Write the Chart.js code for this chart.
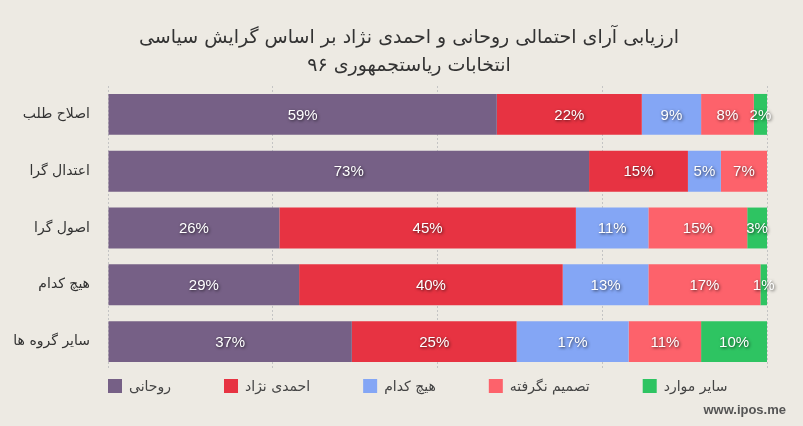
<!DOCTYPE html>
<html>
<head>
<meta charset="utf-8">
<script src="https://cdn.jsdelivr.net/npm/chart.js@4/dist/chart.umd.min.js"></script>
<style>
html,body{margin:0;padding:0;background:#edeae3;}
#wrap{width:803px;height:426px;position:relative;}
</style>
</head>
<body>
<div id="wrap"><canvas id="c" width="803" height="426"></canvas></div>
<script>
const categories = ['اصلاح طلب', 'اعتدال گرا', 'اصول گرا', 'هیچ کدام', 'سایر گروه ها'];
const seriesNames = ['روحانی', 'احمدی نژاد', 'هیچ کدام', 'تصمیم نگرفته', 'سایر موارد'];
const rouhani   = [59, 73, 26, 29, 37];
const ahmadinejad = [22, 15, 45, 40, 25];
const none      = [9, 5, 11, 13, 17];
const undecided = [8, 7, 15, 17, 11];
const others    = [2, 0, 3, 1, 10];
const xTicks = [0, 25, 50, 75, 100];
const titleLines = ['ارزیابی آرای احتمالی روحانی و احمدی نژاد بر اساس گرایش سیاسی', 'انتخابات ریاستجمهوری ۹۶'];
const watermark = 'www.ipos.me';

const colors = ['#766086', '#e73342', '#84a6f5', '#fd626b', '#2ec462'];
const seriesValues = [rouhani, ahmadinejad, none, undecided, others];

const bgPlugin = {
  id: 'bg',
  beforeDraw(chart) {
    const ctx = chart.ctx;
    ctx.save();
    ctx.fillStyle = '#edeae3';
    ctx.fillRect(0, 0, chart.width, chart.height);
    ctx.restore();
  }
};

const titlePlugin = {
  id: 'titleText',
  afterDraw(chart) {
    const ctx = chart.ctx;
    ctx.save();
    ctx.font = '19px "DejaVu Sans", sans-serif';
    ctx.fillStyle = '#333333';
    ctx.textAlign = 'center';
    ctx.textBaseline = 'middle';
    ctx.fillText(titleLines[0], 409, 38);
    ctx.fillText(titleLines[1], 409, 66);
    ctx.restore();
  }
};

const labelPlugin = {
  id: 'valueLabels',
  afterDatasetsDraw(chart) {
    const ctx = chart.ctx;
    ctx.save();
    ctx.font = '15px "Liberation Sans", Arial, sans-serif';
    ctx.textAlign = 'center';
    ctx.textBaseline = 'middle';
    ctx.fillStyle = '#ffffff';
    ctx.shadowColor = 'rgba(0,0,0,0.7)';
    ctx.shadowBlur = 3;
    ctx.shadowOffsetX = 1;
    ctx.shadowOffsetY = 1;
    chart.data.datasets.forEach((ds, di) => {
      const meta = chart.getDatasetMeta(di);
      meta.data.forEach((el, i) => {
        const v = ds.data[i];
        if (!v) return;
        const cx = (el.x + el.base) / 2;
        ctx.fillText(v + '%', cx, el.y + 1);
      });
    });
    ctx.restore();
  }
};

const legendPlugin = {
  id: 'customLegend',
  afterDraw(chart) {
    const ctx = chart.ctx;
    const area = chart.chartArea;
    ctx.save();
    ctx.font = '14px "DejaVu Sans", sans-serif';
    ctx.textBaseline = 'middle';
    ctx.textAlign = 'left';
    let x = area.left;
    const y = 386;
    chart.data.datasets.forEach((ds) => {
      ctx.fillStyle = ds.backgroundColor;
      ctx.fillRect(x, y - 7, 14, 14);
      x += 14 + 7;
      ctx.fillStyle = '#444444';
      ctx.fillText(ds.label, x, y + 1);
      x += ctx.measureText(ds.label).width + 53;
    });
    ctx.font = 'bold 13px "Liberation Sans", Arial, sans-serif';
    ctx.fillStyle = '#555555';
    ctx.textAlign = 'right';
    ctx.fillText(watermark, 786, 410);
    ctx.restore();
  }
};

new Chart(document.getElementById('c'), {
  type: 'bar',
  data: {
    labels: categories,
    datasets: seriesNames.map((name, k) => ({
      label: name,
      data: seriesValues[k],
      backgroundColor: colors[k],
      borderWidth: 0,
      categoryPercentage: 1,
      barPercentage: 0.72
    }))
  },
  options: {
    indexAxis: 'y',
    responsive: false,
    animation: false,
    devicePixelRatio: 1,
    layout: { padding: { left: 0, right: 36, top: 86, bottom: 56 } },
    plugins: {
      legend: { display: false },
      tooltip: { enabled: false },
      title: { display: false }
    },
    scales: {
      x: {
        stacked: true,
        min: 0,
        max: 100,
        afterBuildTicks(scale) { scale.ticks = xTicks.map(v => ({ value: v })); },
        ticks: { display: false },
        grid: { color: '#c4c4c4', lineWidth: 1, drawTicks: false },
        border: { display: false, dash: [2, 2] }
      },
      y: {
        stacked: true,
        afterFit(scale) { scale.width = 108; },
        ticks: {
          color: '#333333',
          padding: 18,
          font: { family: '"DejaVu Sans", sans-serif', size: 14 }
        },
        grid: { display: false, drawTicks: false },
        border: { display: false }
      }
    }
  },
  plugins: [bgPlugin, labelPlugin, legendPlugin, titlePlugin]
});
</script>
</body>
</html>
